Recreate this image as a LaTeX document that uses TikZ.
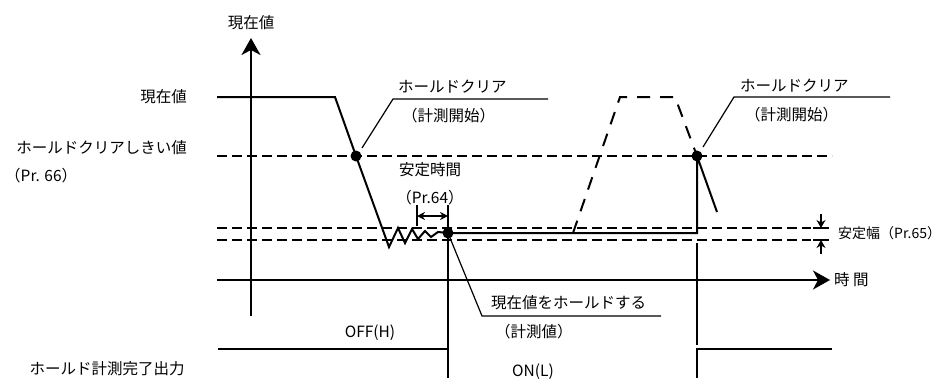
\documentclass[tikz,border=0pt]{standalone}
\usepackage{fontspec}
\setmainfont{Noto Sans CJK JP}
\usetikzlibrary{arrows.meta,positioning}

\begin{document}
\begin{tikzpicture}[x=1pt, y=-1pt, font=\fontsize{15.5}{17}\selectfont,
  sig/.style={line width=2pt},
  lead/.style={line width=1.2pt},
  lvl/.style={line width=1.1pt, dash pattern=on 10pt off 5pt},
  ghost/.style={line width=2pt, dash pattern=on 13pt off 10pt},
  dot/.style={circle, fill, inner sep=0pt, minimum size=11pt},
  txt/.style={inner sep=0pt, anchor=west},
  bigtip/.style={-{Stealth[length=17pt,width=19pt,inset=5pt]}}]
\useasboundingbox (0,0) rectangle (950,378);
% axes
\coordinate (ybot) at (251,316);
\coordinate (ytop) at (251,38);
\coordinate (tleft) at (217,280);
\coordinate (tright) at (830,280);
\draw[sig, bigtip] (ybot) -- (ytop);
\draw[sig, bigtip] (tleft) -- (tright);
\node[inner sep=0pt] (ylab) at (251,23) {現在値};
\node[txt, right=4pt of tright] (tlab) {時 間};
% level lines
\coordinate (th0) at (217,156);  \coordinate (th1) at (832,156);
\coordinate (bu0) at (217,228);  \coordinate (bu1) at (811,228);
\coordinate (bl0) at (217,240);  \coordinate (bl1) at (811,240);
\draw[lvl] (th0) -- (th1);
\draw[lvl] (bu0) -- (bu1);
\draw[lvl] (bl0) -- (bl1);
\node[inner sep=0pt, anchor=east] (pvlab) at (187,97) {現在値};
\node[inner sep=0pt, anchor=east] (thlab) at (187,148) {ホールドクリアしきい値};
\node[txt] (thpr) at (5,176) {（Pr. 66）};
% present value trace
\node[dot] (clr1) at (356,156) {};
\node[dot] (hold) at (448,233) {};
\node[dot] (clr2) at (697,156) {};
\coordinate (pv0) at (217,97);
\coordinate (pv1) at (335,97);
\draw[sig, line join=miter] (pv0) -- (pv1) -- (clr1.center) -- (389,247) -- (398,228) -- (405,243)
  -- (412,229) -- (418,239) -- (425,231) -- (431,237) -- (438,232) -- (hold.center);
\coordinate (hend) at (697,233);
\coordinate (fall) at (717,212);
\draw[sig] (hold.center) -- (hend) -- (clr2.center) -- (fall);
\coordinate (g0) at (573,233);
\coordinate (g1) at (620,97);
\coordinate (g2) at (675,97);
\draw[ghost] (g0) -- (g1) -- (g2) -- (clr2.center);
% stable time
\node[inner sep=0pt] (sttime) at (430,170) {安定時間};
\node[inner sep=0pt, below=13pt of sttime] (stpr) {（Pr.64）};
\coordinate (tk0) at (417,205); \coordinate (tk0b) at (417,226);
\coordinate (tk1) at (448,205);
\draw[lead] (tk0) -- (tk0b);
\draw[lead, {Stealth[length=8pt,width=8pt]}-{Stealth[length=8pt,width=8pt]}] (417,216) -- (448,216);
% stable band
\coordinate (ba0) at (821,214); \coordinate (ba1) at (821,254);
\draw[lead] (813,228) -- (829,228);
\draw[lead] (813,240) -- (829,240);
\draw[lead, -{Stealth[length=8pt,width=9pt]}] (ba0) -- (821,228);
\draw[lead, -{Stealth[length=8pt,width=9pt]}] (ba1) -- (821,240);
\node[txt, font=\fontsize{14}{16}\selectfont] (bandlab) at (838,233) {安定幅（Pr.65）};
% leaders
\coordinate (l1a) at (393,99); \coordinate (l1b) at (548,99);
\draw[lead] (clr1) ++(6,-8) -- (l1a) -- (l1b);
\node[txt] (clrtxt1) at (398,87) {ホールドクリア};
\node[txt] (clrsub1) at (402,116) {（計測開始）};
\coordinate (l2a) at (734,97); \coordinate (l2b) at (890,97);
\draw[lead] (clr2) ++(6,-9) -- (l2a) -- (l2b);
\node[txt] (clrtxt2) at (740,86) {ホールドクリア};
\node[txt] (clrsub2) at (745,115) {（計測開始）};
\coordinate (l3a) at (482,316); \coordinate (l3b) at (661,316);
\draw[lead] (hold.center) -- (l3a) -- (l3b);
\node[txt] (holdtxt) at (491,303) {現在値をホールドする};
\node[txt] (holdsub) at (495,332) {（計測値）};
% output signal
\coordinate (o0) at (218,349); \coordinate (o1) at (448,349); \coordinate (o2) at (448,378);
\coordinate (o3) at (697,378); \coordinate (o4) at (697,349); \coordinate (o5) at (832,349);
\draw[sig] (o0) -- (o1) -- (o2);
\draw[sig] (o3) -- (o4) -- (o5);
\draw[lead] (tk1) -- (o1);
\draw[lead] (697,243) -- (697,345);
\node[inner sep=0pt] (offlab) at (370,333) {OFF(H)};
\node[inner sep=0pt] (onlab) at (533,372) {ON(L)};
\node[inner sep=0pt] (outlab) at (107,369) {ホールド計測完了出力};
\end{tikzpicture}
\end{document}
